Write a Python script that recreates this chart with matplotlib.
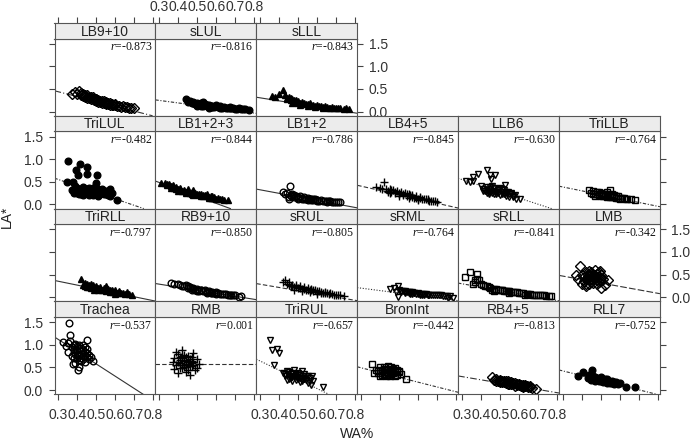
import matplotlib.pyplot as plt
import numpy as np

# panel order, row by row from the top (lattice layout, 6 columns)
names = ["LB9+10", "sLUL", "sLLL",
         "TriLUL", "LB1+2+3", "LB1+2", "LB4+5", "LLB6", "TriLLB",
         "TriRLL", "RB9+10", "sRUL", "sRML", "sRLL", "LMB",
         "Trachea", "RMB", "TriRUL", "BronInt", "RB4+5", "RLL7"]
r_vals = [-0.873, -0.816, -0.843,
          -0.482, -0.844, -0.786, -0.845, -0.630, -0.764,
          -0.797, -0.850, -0.805, -0.764, -0.841, -0.342,
          -0.537, 0.001, -0.657, -0.442, -0.813, -0.752]
# regression lines
slopes = [-1.07, -0.56, -0.667,
          -1.43, -1.54, -0.78, -0.946, -1.36, -0.854,
          -0.857, -0.67, -0.71, -0.54, -0.74, -0.76,
          -2.71, 0.0, -2.03, -1.06, -0.71, -1.045]
intercepts = [0.76, 0.416, 0.505,
              0.98, 0.947, 0.557, 0.688, 0.958, 0.642,
              0.61, 0.49, 0.50, 0.363, 0.52, 0.695,
              1.93, 0.57, 1.25, 0.81, 0.51, 0.736]

# WA% (x) and LA* (y) points per panel
lb910_x = [0.37, 0.39, 0.40, 0.41, 0.42, 0.43, 0.44, 0.45, 0.46, 0.47, 0.48, 0.49, 0.50, 0.51, 0.52, 0.53, 0.54, 0.55, 0.56,
           0.57, 0.58, 0.60, 0.62, 0.64, 0.66, 0.68, 0.70, 0.42, 0.45, 0.48, 0.51, 0.54, 0.57, 0.60, 0.44, 0.50, 0.55,
           0.43, 0.46, 0.47, 0.49, 0.50, 0.52, 0.53, 0.55, 0.56, 0.58, 0.59, 0.61, 0.63, 0.65, 0.67]
lb910_y = [0.40, 0.44, 0.38, 0.46, 0.36, 0.40, 0.33, 0.36, 0.30, 0.32, 0.27, 0.29, 0.24, 0.26, 0.21, 0.23, 0.19, 0.21, 0.17,
           0.18, 0.15, 0.14, 0.12, 0.12, 0.10, 0.09, 0.08, 0.42, 0.30, 0.33, 0.22, 0.24, 0.14, 0.17, 0.37, 0.28, 0.16,
           0.35, 0.33, 0.28, 0.25, 0.27, 0.24, 0.20, 0.18, 0.20, 0.17, 0.14, 0.13, 0.10, 0.11, 0.08]
slul_x = [0.44, 0.46, 0.47, 0.48, 0.49, 0.50, 0.51, 0.52, 0.53, 0.54, 0.55, 0.56, 0.57, 0.58, 0.59, 0.60, 0.62, 0.64, 0.66,
          0.68, 0.70, 0.72, 0.74, 0.77, 0.50, 0.53, 0.56, 0.60, 0.63, 0.67,
          0.45, 0.48, 0.51, 0.52, 0.55, 0.57, 0.58, 0.61, 0.62, 0.65, 0.67, 0.69, 0.71, 0.73, 0.75]
slul_y = [0.29, 0.24, 0.18, 0.22, 0.16, 0.20, 0.15, 0.18, 0.13, 0.16, 0.12, 0.15, 0.11, 0.13, 0.10, 0.12, 0.09, 0.10, 0.07,
          0.08, 0.06, 0.07, 0.05, 0.04, 0.12, 0.21, 0.09, 0.14, 0.07, 0.11,
          0.21, 0.19, 0.17, 0.13, 0.14, 0.13, 0.11, 0.10, 0.12, 0.08, 0.09, 0.07, 0.06, 0.06, 0.05]
slll_x = [0.36, 0.38, 0.40, 0.42, 0.43, 0.44, 0.45, 0.46, 0.47, 0.48, 0.49, 0.50, 0.52, 0.54, 0.56, 0.58, 0.60, 0.62, 0.64,
          0.66, 0.68, 0.70, 0.72, 0.74, 0.77, 0.47, 0.51, 0.55, 0.59, 0.63, 0.67,
          0.44, 0.46, 0.48, 0.50, 0.51, 0.53, 0.55, 0.57, 0.59, 0.61, 0.63, 0.65, 0.69, 0.71, 0.75]
slll_y = [0.35, 0.33, 0.40, 0.47, 0.36, 0.30, 0.33, 0.25, 0.28, 0.22, 0.25, 0.20, 0.21, 0.17, 0.18, 0.14, 0.15, 0.12, 0.12,
          0.09, 0.10, 0.07, 0.08, 0.06, 0.06, 0.19, 0.15, 0.13, 0.10, 0.08, 0.07,
          0.27, 0.30, 0.26, 0.23, 0.18, 0.19, 0.16, 0.15, 0.13, 0.13, 0.11, 0.10, 0.08, 0.09, 0.07]
trilul_x = [0.353, 0.414, 0.393, 0.453, 0.405, 0.449, 0.502, 0.376, 0.344, 0.50, 0.607,
            0.37, 0.38, 0.40, 0.41, 0.42, 0.43, 0.44, 0.45, 0.46, 0.47, 0.48, 0.49, 0.50, 0.51, 0.52, 0.53, 0.54, 0.55,
            0.56, 0.57, 0.58, 0.39, 0.42, 0.45, 0.48, 0.51, 0.54, 0.57, 0.40, 0.46, 0.52,
            0.38, 0.40, 0.43, 0.44, 0.46, 0.47, 0.49, 0.50, 0.53, 0.55, 0.56, 0.43, 0.48, 0.52, 0.39]
trilul_y = [0.95, 0.90, 0.75, 0.82, 0.64, 0.68, 0.66, 0.49, 0.49, 0.48, 0.09,
            0.32, 0.26, 0.36, 0.22, 0.30, 0.38, 0.25, 0.33, 0.20, 0.28, 0.36, 0.24, 0.31, 0.19, 0.27, 0.34, 0.22, 0.29,
            0.21, 0.33, 0.26, 0.40, 0.24, 0.27, 0.21, 0.35, 0.30, 0.18, 0.29, 0.37, 0.23,
            0.30, 0.26, 0.28, 0.35, 0.30, 0.24, 0.33, 0.26, 0.25, 0.24, 0.28, 0.20, 0.29, 0.31, 0.35]
lb123_x = [0.31, 0.33, 0.34, 0.35, 0.36, 0.37, 0.38, 0.39, 0.40, 0.41, 0.42, 0.43, 0.44, 0.45, 0.46, 0.47, 0.48, 0.49, 0.50,
           0.51, 0.52, 0.53, 0.54, 0.55, 0.56, 0.57, 0.58, 0.59, 0.60, 0.62, 0.64, 0.66, 0.36, 0.40, 0.44, 0.48, 0.52, 0.56,
           0.34, 0.37, 0.39, 0.41, 0.43, 0.45, 0.47, 0.49, 0.51, 0.53, 0.55, 0.57, 0.58, 0.61, 0.63]
lb123_y = [0.48, 0.47, 0.43, 0.45, 0.41, 0.40, 0.37, 0.38, 0.33, 0.35, 0.30, 0.32, 0.28, 0.33, 0.25, 0.27, 0.31, 0.22, 0.24,
           0.21, 0.23, 0.19, 0.20, 0.24, 0.16, 0.18, 0.15, 0.16, 0.13, 0.12, 0.10, 0.09, 0.36, 0.30, 0.25, 0.20, 0.18, 0.14,
           0.46, 0.42, 0.35, 0.37, 0.29, 0.29, 0.24, 0.26, 0.24, 0.21, 0.19, 0.15, 0.19, 0.14, 0.11]
lb12_x = [0.42, 0.43, 0.44, 0.45, 0.46, 0.47, 0.48, 0.49, 0.50, 0.51, 0.52, 0.53, 0.54, 0.55, 0.56, 0.57, 0.58, 0.59, 0.60,
          0.62, 0.64, 0.66, 0.68, 0.70, 0.72, 0.459, 0.45, 0.50, 0.55, 0.60, 0.65,
          0.46, 0.48, 0.50, 0.52, 0.53, 0.55, 0.57, 0.58, 0.60, 0.61, 0.63, 0.65, 0.67, 0.69, 0.71]
lb12_y = [0.27, 0.22, 0.25, 0.13, 0.20, 0.23, 0.17, 0.19, 0.15, 0.18, 0.14, 0.16, 0.12, 0.14, 0.11, 0.13, 0.10, 0.11, 0.09,
          0.09, 0.08, 0.07, 0.06, 0.06, 0.05, 0.40, 0.17, 0.12, 0.10, 0.07, 0.06,
          0.18, 0.20, 0.17, 0.12, 0.13, 0.12, 0.10, 0.12, 0.10, 0.08, 0.08, 0.07, 0.07, 0.05, 0.06]
lb45_x = [0.38, 0.40, 0.42, 0.43, 0.44, 0.45, 0.46, 0.47, 0.48, 0.49, 0.50, 0.51, 0.52, 0.53, 0.54, 0.55, 0.56, 0.57, 0.58,
          0.59, 0.60, 0.61, 0.62, 0.64, 0.66, 0.68, 0.70, 0.45, 0.50, 0.55, 0.60, 0.65,
          0.41, 0.44, 0.46, 0.48, 0.50, 0.52, 0.54, 0.56, 0.57, 0.59, 0.61, 0.63, 0.65, 0.67, 0.69]
lb45_y = [0.38, 0.36, 0.49, 0.33, 0.30, 0.34, 0.28, 0.31, 0.25, 0.29, 0.23, 0.27, 0.21, 0.25, 0.19, 0.22, 0.18, 0.20, 0.15,
          0.18, 0.13, 0.16, 0.12, 0.11, 0.08, 0.07, 0.05, 0.25, 0.19, 0.15, 0.10, 0.10,
          0.33, 0.28, 0.31, 0.28, 0.26, 0.24, 0.22, 0.20, 0.17, 0.15, 0.14, 0.12, 0.11, 0.08, 0.07]
llb6_x = [0.32, 0.356, 0.359, 0.385, 0.433, 0.447, 0.473, 0.455, 0.526, 0.587, 0.605, 0.34,
          0.40, 0.41, 0.42, 0.43, 0.44, 0.45, 0.46, 0.47, 0.48, 0.49, 0.50, 0.51, 0.52, 0.53, 0.54, 0.55, 0.56, 0.57,
          0.58, 0.44, 0.48, 0.52, 0.56, 0.46, 0.50,
          0.41, 0.43, 0.45, 0.47, 0.49, 0.51, 0.53, 0.55, 0.57, 0.45, 0.49, 0.53, 0.47, 0.51, 0.43]
llb6_y = [0.52, 0.60, 0.52, 0.68, 0.77, 0.64, 0.64, 0.56, 0.44, 0.13, 0.13, 0.49,
          0.40, 0.35, 0.30, 0.38, 0.27, 0.33, 0.25, 0.36, 0.22, 0.31, 0.20, 0.28, 0.24, 0.19, 0.27, 0.17, 0.22, 0.16,
          0.20, 0.22, 0.28, 0.32, 0.25, 0.40, 0.36,
          0.30, 0.32, 0.28, 0.30, 0.26, 0.23, 0.25, 0.22, 0.19, 0.38, 0.34, 0.28, 0.24, 0.35, 0.26]
trillb_x = [0.44, 0.45, 0.46, 0.47, 0.48, 0.49, 0.50, 0.51, 0.52, 0.53, 0.54, 0.55, 0.56, 0.57, 0.58, 0.59, 0.60, 0.62,
            0.64, 0.66, 0.68, 0.47, 0.50, 0.53, 0.56, 0.59,
            0.46, 0.48, 0.49, 0.51, 0.52, 0.54, 0.55, 0.57, 0.58, 0.60, 0.61, 0.63, 0.50, 0.53, 0.56]
trillb_y = [0.31, 0.26, 0.29, 0.22, 0.27, 0.20, 0.25, 0.19, 0.24, 0.17, 0.22, 0.31, 0.16, 0.20, 0.14, 0.18, 0.13, 0.15,
            0.11, 0.11, 0.09, 0.18, 0.21, 0.27, 0.19, 0.15,
            0.24, 0.23, 0.27, 0.23, 0.20, 0.19, 0.17, 0.17, 0.18, 0.15, 0.14, 0.13, 0.19, 0.21, 0.22]
trirll_x = [0.42, 0.43, 0.44, 0.45, 0.46, 0.47, 0.48, 0.49, 0.50, 0.51, 0.52, 0.53, 0.54, 0.55, 0.56, 0.57, 0.58, 0.59,
            0.60, 0.61, 0.62, 0.64, 0.66, 0.69, 0.45, 0.50, 0.55, 0.60,
            0.44, 0.46, 0.47, 0.49, 0.51, 0.52, 0.54, 0.55, 0.57, 0.58, 0.60, 0.62, 0.63, 0.65, 0.67]
trirll_y = [0.40, 0.28, 0.32, 0.22, 0.27, 0.20, 0.26, 0.17, 0.24, 0.16, 0.22, 0.15, 0.20, 0.13, 0.19, 0.12, 0.17, 0.11,
            0.16, 0.10, 0.14, 0.09, 0.11, 0.04, 0.30, 0.19, 0.24, 0.08,
            0.25, 0.22, 0.29, 0.23, 0.21, 0.18, 0.17, 0.19, 0.15, 0.13, 0.12, 0.11, 0.09, 0.08, 0.07]
rb910_x = [0.36, 0.38, 0.40, 0.42, 0.44, 0.45, 0.46, 0.47, 0.48, 0.49, 0.50, 0.51, 0.52, 0.53, 0.54, 0.55, 0.56, 0.57,
           0.58, 0.59, 0.60, 0.62, 0.64, 0.66, 0.68, 0.70, 0.72, 0.73, 0.45, 0.50, 0.55, 0.60,
           0.41, 0.43, 0.46, 0.48, 0.50, 0.52, 0.54, 0.56, 0.58, 0.60, 0.61, 0.63, 0.65, 0.67, 0.69]
rb910_y = [0.31, 0.29, 0.30, 0.25, 0.26, 0.20, 0.23, 0.17, 0.21, 0.16, 0.19, 0.14, 0.17, 0.13, 0.15, 0.11, 0.14, 0.10,
           0.12, 0.09, 0.11, 0.08, 0.08, 0.06, 0.05, 0.06, 0.01, 0.03, 0.25, 0.13, 0.09, 0.07,
           0.27, 0.24, 0.20, 0.19, 0.16, 0.15, 0.13, 0.12, 0.10, 0.09, 0.10, 0.07, 0.07, 0.05, 0.04]
srul_x = [0.42, 0.43, 0.44, 0.45, 0.46, 0.47, 0.48, 0.49, 0.50, 0.51, 0.52, 0.53, 0.54, 0.55, 0.56, 0.57, 0.58, 0.59,
          0.60, 0.61, 0.62, 0.64, 0.66, 0.68, 0.70, 0.72, 0.74, 0.48, 0.52, 0.56, 0.60, 0.64,
          0.45, 0.47, 0.49, 0.51, 0.53, 0.55, 0.57, 0.58, 0.60, 0.62, 0.63, 0.65, 0.67, 0.69, 0.71]
srul_y = [0.34, 0.39, 0.30, 0.33, 0.25, 0.28, 0.22, 0.27, 0.20, 0.24, 0.18, 0.22, 0.16, 0.20, 0.15, 0.18, 0.13, 0.16,
          0.12, 0.14, 0.10, 0.09, 0.08, 0.07, 0.06, 0.05, 0.03, 0.17, 0.14, 0.11, 0.08, 0.12,
          0.28, 0.24, 0.22, 0.21, 0.19, 0.17, 0.16, 0.15, 0.14, 0.12, 0.10, 0.10, 0.09, 0.06, 0.05]
srml_x = [0.451, 0.476, 0.494, 0.485, 0.494, 0.50, 0.51, 0.52, 0.53, 0.54, 0.55, 0.56, 0.57, 0.58, 0.59, 0.60, 0.61,
          0.62, 0.63, 0.64, 0.66, 0.68, 0.70, 0.72, 0.74, 0.757, 0.783, 0.53, 0.57, 0.61, 0.65,
          0.51, 0.53, 0.55, 0.56, 0.58, 0.60, 0.62, 0.63, 0.65, 0.67, 0.69, 0.71, 0.73, 0.75, 0.77]
srml_y = [0.19, 0.21, 0.24, 0.12, 0.00, 0.15, 0.11, 0.13, 0.10, 0.12, 0.09, 0.11, 0.08, 0.10, 0.07, 0.09, 0.07,
          0.08, 0.06, 0.07, 0.05, 0.05, 0.04, 0.04, 0.03, -0.02, -0.02, 0.14, 0.12, 0.05, 0.06,
          0.13, 0.12, 0.11, 0.08, 0.09, 0.08, 0.06, 0.08, 0.06, 0.06, 0.04, 0.05, 0.03, 0.03, 0.02]
srll_x = [0.315, 0.342, 0.377, 0.368, 0.39, 0.36, 0.40, 0.42, 0.44, 0.45, 0.46, 0.48, 0.50, 0.52, 0.54, 0.56, 0.58,
          0.60, 0.62, 0.64, 0.66, 0.68, 0.70, 0.72, 0.74, 0.76, 0.77, 0.47, 0.51, 0.55, 0.59, 0.63, 0.67,
          0.37, 0.38, 0.41, 0.43, 0.47, 0.49, 0.51, 0.53, 0.55, 0.57, 0.61, 0.65, 0.69, 0.71, 0.73]
srll_y = [0.45, 0.56, 0.52, 0.37, 0.38, 0.30, 0.29, 0.25, 0.22, 0.20, 0.17, 0.18, 0.15, 0.14, 0.13, 0.12, 0.11,
          0.09, 0.10, 0.08, 0.07, 0.06, 0.06, 0.05, 0.03, 0.03, 0.02, 0.13, 0.16, 0.10, 0.11, 0.06, 0.04,
          0.33, 0.41, 0.27, 0.24, 0.19, 0.16, 0.17, 0.13, 0.14, 0.11, 0.10, 0.08, 0.05, 0.06, 0.04]
lmb_x = [0.389, 0.494, 0.538, 0.372, 0.503, 0.38, 0.40, 0.41, 0.42, 0.43, 0.44, 0.45, 0.46, 0.47, 0.48, 0.49, 0.50,
         0.51, 0.52, 0.42, 0.44, 0.46, 0.48, 0.50, 0.40, 0.45, 0.47, 0.43, 0.49,
         0.41, 0.42, 0.43, 0.44, 0.45, 0.46, 0.47, 0.48, 0.49, 0.50, 0.44, 0.46, 0.42, 0.48, 0.45]
lmb_y = [0.68, 0.59, 0.37, 0.48, 0.21, 0.40, 0.50, 0.35, 0.55, 0.42, 0.30, 0.52, 0.38, 0.60, 0.45, 0.33, 0.50,
         0.40, 0.28, 0.25, 0.58, 0.44, 0.30, 0.36, 0.30, 0.40, 0.48, 0.46, 0.55,
         0.45, 0.40, 0.52, 0.47, 0.34, 0.50, 0.42, 0.52, 0.45, 0.42, 0.38, 0.32, 0.30, 0.38, 0.56]
trachea_x = [0.358, 0.362, 0.353, 0.376, 0.405, 0.41, 0.326, 0.453, 0.34, 0.36, 0.37, 0.38, 0.39, 0.40, 0.41, 0.42,
             0.43, 0.44, 0.45, 0.46, 0.47, 0.48, 0.38, 0.40, 0.42, 0.44, 0.39, 0.41, 0.43, 0.37, 0.45, 0.35,
             0.38, 0.39, 0.40, 0.41, 0.42, 0.43, 0.44, 0.45, 0.40, 0.42, 0.44, 0.38, 0.46, 0.41, 0.43]
trachea_y = [1.49, 1.21, 0.84, 0.57, 0.44, 0.50, 1.06, 1.10, 0.98, 1.08, 0.95, 0.85, 1.02, 0.78, 0.92, 0.70,
             0.88, 0.75, 0.82, 0.68, 0.72, 0.65, 0.70, 0.98, 0.80, 0.62, 0.60, 0.66, 1.00, 0.76, 0.90, 1.04,
             0.90, 0.80, 0.88, 0.78, 0.92, 0.75, 0.85, 0.72, 0.70, 0.65, 0.95, 1.00, 0.78, 1.00, 0.68]
rmb_x = [0.37, 0.38, 0.39, 0.40, 0.41, 0.42, 0.43, 0.44, 0.45, 0.46, 0.47, 0.48, 0.49, 0.50, 0.51, 0.40, 0.42, 0.44,
         0.46, 0.48, 0.39, 0.43, 0.45, 0.47, 0.41, 0.44, 0.50, 0.38, 0.42,
         0.41, 0.42, 0.43, 0.44, 0.45, 0.46, 0.47, 0.43, 0.45, 0.41, 0.47, 0.44, 0.40, 0.48, 0.42]
rmb_y = [0.62, 0.70, 0.55, 0.80, 0.48, 0.88, 0.65, 0.40, 0.75, 0.52, 0.60, 0.82, 0.45, 0.68, 0.58, 0.38, 0.56, 0.72,
         0.34, 0.62, 0.85, 0.50, 0.62, 0.72, 0.66, 0.56, 0.48, 0.46, 0.76,
         0.60, 0.70, 0.55, 0.66, 0.58, 0.68, 0.52, 0.78, 0.45, 0.72, 0.65, 0.50, 0.62, 0.55, 0.48]
trirul_x = [0.35, 0.363, 0.39, 0.40, 0.372, 0.632, 0.574, 0.42, 0.43, 0.44, 0.45, 0.46, 0.47, 0.48, 0.49, 0.50, 0.51,
            0.52, 0.53, 0.54, 0.55, 0.56, 0.57, 0.44, 0.47, 0.50, 0.53, 0.46, 0.52, 0.58,
            0.43, 0.45, 0.46, 0.48, 0.49, 0.50, 0.51, 0.53, 0.54, 0.56, 0.45, 0.47, 0.49, 0.52, 0.55]
trirul_y = [1.11, 0.88, 0.90, 0.81, 0.55, 0.07, 0.31, 0.38, 0.30, 0.42, 0.25, 0.35, 0.20, 0.44, 0.28, 0.33, 0.18,
            0.42, 0.24, 0.30, 0.15, 0.26, 0.12, 0.22, 0.37, 0.25, 0.35, 0.31, 0.20, 0.20,
            0.35, 0.32, 0.27, 0.30, 0.22, 0.38, 0.27, 0.30, 0.22, 0.20, 0.40, 0.28, 0.36, 0.25, 0.30]
bronint_x = [0.359, 0.535, 0.37, 0.38, 0.39, 0.40, 0.41, 0.42, 0.43, 0.44, 0.45, 0.46, 0.47, 0.48, 0.49, 0.50, 0.51,
             0.40, 0.42, 0.44, 0.46, 0.48, 0.41, 0.45, 0.43, 0.47,
             0.39, 0.41, 0.42, 0.43, 0.44, 0.45, 0.46, 0.47, 0.48, 0.49, 0.42, 0.44, 0.46, 0.40, 0.50]
bronint_y = [0.57, 0.235, 0.38, 0.45, 0.38, 0.50, 0.34, 0.46, 0.40, 0.52, 0.30, 0.44, 0.38, 0.48, 0.33, 0.42, 0.36,
             0.30, 0.36, 0.44, 0.50, 0.30, 0.42, 0.40, 0.32, 0.46,
             0.42, 0.44, 0.40, 0.46, 0.38, 0.46, 0.36, 0.42, 0.40, 0.45, 0.50, 0.34, 0.42, 0.37, 0.40]
rb45_x = [0.46, 0.47, 0.48, 0.49, 0.50, 0.51, 0.52, 0.53, 0.54, 0.55, 0.56, 0.57, 0.58, 0.59, 0.60, 0.61, 0.62, 0.63,
          0.64, 0.65, 0.66, 0.67, 0.69, 0.50, 0.54, 0.58, 0.62,
          0.48, 0.50, 0.51, 0.53, 0.55, 0.56, 0.57, 0.59, 0.60, 0.62, 0.63, 0.64, 0.66, 0.52, 0.61]
rb45_y = [0.28, 0.22, 0.25, 0.19, 0.23, 0.18, 0.21, 0.16, 0.19, 0.14, 0.17, 0.13, 0.15, 0.11, 0.13, 0.10, 0.12, 0.08,
          0.10, 0.07, 0.08, 0.05, 0.02, 0.17, 0.14, 0.10, 0.06,
          0.20, 0.20, 0.21, 0.19, 0.17, 0.14, 0.16, 0.13, 0.11, 0.09, 0.11, 0.08, 0.06, 0.18, 0.12]
rll7_x = [0.38, 0.406, 0.456, 0.44, 0.43, 0.45, 0.46, 0.47, 0.48, 0.49, 0.50, 0.51, 0.52, 0.53, 0.54, 0.55, 0.56,
          0.57, 0.58, 0.59, 0.60, 0.635, 0.678, 0.47, 0.50, 0.53, 0.56,
          0.45, 0.47, 0.48, 0.49, 0.50, 0.51, 0.52, 0.53, 0.54, 0.55, 0.56, 0.57, 0.58, 0.46, 0.52]
rll7_y = [0.31, 0.39, 0.44, 0.33, 0.27, 0.22, 0.28, 0.20, 0.26, 0.19, 0.24, 0.18, 0.22, 0.16, 0.21, 0.15, 0.19,
          0.14, 0.17, 0.13, 0.15, 0.06, 0.07, 0.29, 0.28, 0.24, 0.17,
          0.25, 0.24, 0.22, 0.23, 0.21, 0.22, 0.19, 0.20, 0.18, 0.18, 0.16, 0.17, 0.15, 0.31, 0.25]

xs = [lb910_x, slul_x, slll_x, trilul_x, lb123_x, lb12_x, lb45_x, llb6_x, trillb_x, trirll_x, rb910_x,
      srul_x, srml_x, srll_x, lmb_x, trachea_x, rmb_x, trirul_x, bronint_x, rb45_x, rll7_x]
ys = [lb910_y, slul_y, slll_y, trilul_y, lb123_y, lb12_y, lb45_y, llb6_y, trillb_y, trirll_y, rb910_y,
      srul_y, srml_y, srll_y, lmb_y, trachea_y, rmb_y, trirul_y, bronint_y, rb45_y, rll7_y]

# marker: (symbol, filled)
markers = [('D', False), ('o', True), ('^', True),
           ('o', True), ('^', True), ('o', False), ('+', False), ('v', False), ('s', False),
           ('^', True), ('o', False), ('+', False), ('v', False), ('s', False), ('D', False),
           ('o', False), ('+', False), ('v', False), ('s', False), ('D', False), ('o', True)]
solid = '-'
dashed = (0, (4, 2))
longdash = (0, (6, 2))
dotted = (0, (1, 1.5))
dashdot = (0, (3, 1.5, 1, 1.5))
longdashdot = (0, (6, 2, 1, 2))
lstyles = [longdashdot, dashdot, solid,
           dashdot, solid, solid, dashed, dotted, dashdot,
           solid, solid, dashed, dotted, dashdot, longdash,
           solid, dashed, dotted, dashdot, longdashdot, dashdot]

plt.rcParams['font.family'] = ['Liberation Sans', 'DejaVu Sans']
plt.rcParams['mathtext.fontset'] = 'custom'
plt.rcParams['mathtext.it'] = 'Liberation Serif:italic'
plt.rcParams['mathtext.rm'] = 'Liberation Serif'

W, H = 692, 443
fig = plt.figure(figsize=(W / 100, H / 100), dpi=100)


def box(left, top, w, h):
    return [left / W, 1 - (top + h) / H, w / W, h / H]


x0, y0 = 54.5, 23.0
col_w, row_h, strip_h = 100.9, 92.8, 15.5
xlim = (0.28, 0.811)
ylim = (-0.092, 1.615)
xt = [0.3, 0.4, 0.5, 0.6, 0.7, 0.8]
xtl = ['0.3', '0.4', '0.5', '0.6', '0.7', '0.8']
yt = [0.0, 0.5, 1.0, 1.5]
ytl = ['0.0', '0.5', '1.0', '1.5']
frame_col = '#555555'
fs = 10
tick_kw = dict(direction='out', length=4.3, width=0.8, color='#444444', labelsize=fs, labelcolor='#333333', pad=4)

pos = [(0, c) for c in range(3)] + [(r, c) for r in range(1, 4) for c in range(6)]

for i, name in enumerate(names):
    r, c = pos[i]
    last = (c == 2) if r == 0 else (c == 5)
    left = x0 + c * col_w
    top = y0 + r * row_h

    ax = fig.add_axes(box(left, top + strip_h, col_w, row_h - strip_h))
    ax.set_xlim(xlim)
    ax.set_ylim(ylim)
    ax.axline((0, intercepts[i]), slope=slopes[i], color='#333333', lw=0.8, ls=lstyles[i], zorder=1)
    m, filled = markers[i]
    ax.plot(xs[i], ys[i], linestyle='none', marker=m, ms=5.8 if m == '+' else 4.8,
            mfc='black' if filled else 'none', mec='black', mew=1.0, zorder=2)
    ax.annotate(rf'$\mathit{{r}}$={r_vals[i]:.3f}', (1, 1), xycoords='axes fraction',
                xytext=(-2, -2), textcoords='offset points', ha='right', va='top',
                fontsize=8.5, family='Liberation Serif', color='#111111')
    ax.set_xticks(xt)
    ax.set_xticklabels(xtl)
    ax.set_yticks(yt)
    ax.set_yticklabels(ytl)
    ax.tick_params(**tick_kw)
    ax.tick_params(axis='x', bottom=(r == 3), top=False, labelbottom=(r == 3 and c in (0, 2, 4)),
                   labeltop=False, pad=5.5)
    ax.tick_params(axis='y', left=(c == 0), right=last, labelleft=(c == 0 and r in (1, 3)),
                   labelright=(last and r in (0, 2)))
    for s in ax.spines.values():
        s.set_color(frame_col)
        s.set_linewidth(0.8)

    # strip with panel name
    sx = fig.add_axes(box(left, top, col_w, strip_h))
    sx.set_facecolor('#ececec')
    sx.set_xlim(xlim)
    sx.set_xticks(xt)
    sx.set_xticklabels(xtl)
    sx.set_yticks([])
    sx.tick_params(**tick_kw)
    sx.tick_params(axis='x', bottom=False, labelbottom=False, top=(r == 0), labeltop=(r == 0 and c == 1), pad=2.5)
    for s in sx.spines.values():
        s.set_color(frame_col)
        s.set_linewidth(0.8)
    sx.text(0.5, 0.45, name, transform=sx.transAxes, ha='center', va='center', fontsize=fs, color='#222222')

fig.text(7 / W, 1 - 217 / H, 'LA*', rotation=90, ha='center', va='center', fontsize=fs, color='#222222')
fig.text(357 / W, 1 - 434 / H, 'WA%', ha='center', va='center', fontsize=fs, color='#222222')

fig.savefig('out.png', dpi=100)
